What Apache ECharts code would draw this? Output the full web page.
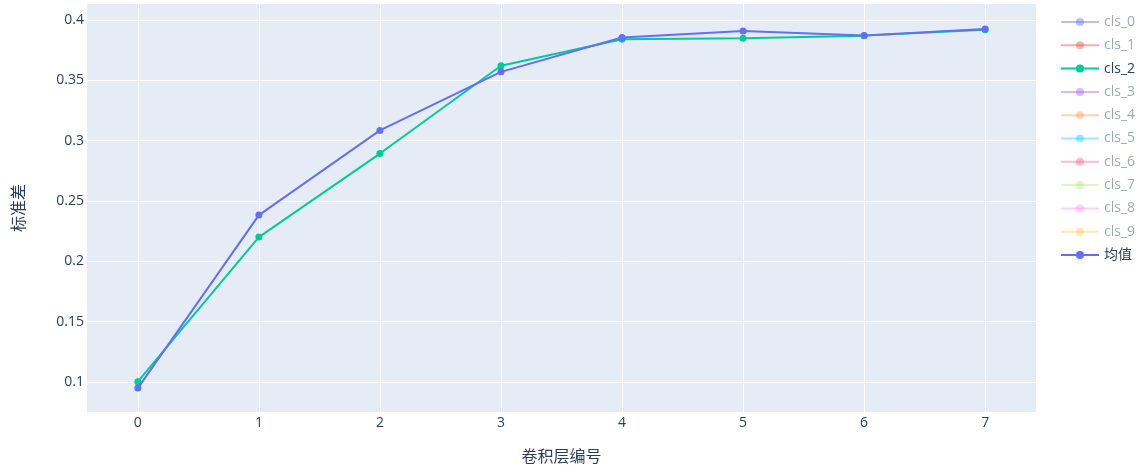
<!DOCTYPE html>
<html><head><meta charset="utf-8">
<script src="https://cdn.jsdelivr.net/npm/echarts@6/dist/echarts.min.js"></script>
<style>html,body{margin:0;padding:0;background:#fff}#c{width:1141px;height:465px}</style>
</head><body><div id="c"></div>
<script>
const layers = [0, 1, 2, 3, 4, 5, 6, 7];
const seriesNames = ['cls_0','cls_1','cls_2','cls_3','cls_4','cls_5','cls_6','cls_7','cls_8','cls_9','均值'];
const cls2 = [0.1003, 0.2201, 0.2893, 0.3620, 0.3840, 0.3849, 0.3870, 0.3918];
const meanVals = [0.0950, 0.2383, 0.3085, 0.3570, 0.3854, 0.3909, 0.3872, 0.3925];
const hiddenNames = ['cls_0','cls_1','cls_3','cls_4','cls_5','cls_6','cls_7','cls_8','cls_9'];
const xTicks = [0, 1, 2, 3, 4, 5, 6, 7];
const yTicks = [0.1, 0.15, 0.2, 0.25, 0.3, 0.35, 0.4];
const colors = ['#636efa','#EF553B','#00cc96','#ab63fa','#FFA15A','#19d3f3','#FF6692','#B6E880','#FF97FF','#FECB52','#636efa'];

const font = "'Open Sans', 'Noto Sans CJK SC', sans-serif";
const valuesByName = { 'cls_2': cls2, '均值': meanVals };

const series = seriesNames.map((n, i) => ({
  name: n,
  type: 'line',
  data: valuesByName[n] ? layers.map((x, k) => [x, valuesByName[n][k]]) : [],
  symbol: 'circle',
  symbolSize: 7,
  showSymbol: true,
  lineStyle: { width: 2, color: colors[i] },
  itemStyle: { color: colors[i] },
  emphasis: { disabled: true },
  animation: false,
  z: 2 + i
}));

const legendData = seriesNames.map((n, i) => {
  const hidden = hiddenNames.indexOf(n) >= 0;
  return hidden ? {
    name: n,
    itemStyle: { opacity: 0.45 },
    lineStyle: { opacity: 0.45 },
    textStyle: { color: 'rgba(42,63,95,0.45)' }
  } : { name: n };
});

const chart = echarts.init(document.getElementById('c'), null, { renderer: 'canvas' });
chart.setOption({
  backgroundColor: '#fff',
  animation: false,
  textStyle: { fontFamily: font },
  grid: { left: 87, right: 105, top: 4, bottom: 53, show: true, backgroundColor: '#E5ECF6', borderWidth: 0, containLabel: false, outerBoundsMode: 'none' },
  legend: {
    orient: 'vertical',
    left: 1060,
    top: 15,
    padding: 0,
    itemWidth: 38,
    itemHeight: 10,
    itemGap: 9.3,
    data: legendData,
    textStyle: { fontSize: 14, color: '#2a3f5f', fontFamily: font }
  },
  xAxis: {
    type: 'value',
    min: -0.42,
    max: 7.42,
    name: '卷积层编号',
    nameLocation: 'middle',
    nameGap: 37,
    nameTextStyle: { fontSize: 16, color: '#2a3f5f', fontFamily: font },
    axisLine: { show: false },
    axisTick: { show: false, customValues: xTicks },
    axisLabel: { customValues: xTicks, color: '#2a3f5f', fontSize: 14, margin: 4 },
    splitLine: { show: true, lineStyle: { color: '#ffffff', width: 1 } }
  },
  yAxis: {
    type: 'value',
    min: 0.0752,
    max: 0.4132,
    name: '标准差',
    nameLocation: 'middle',
    nameGap: 60,
    nameRotate: 90,
    nameTextStyle: { fontSize: 16, color: '#2a3f5f', fontFamily: font },
    axisLine: { show: false },
    axisTick: { show: false, customValues: yTicks },
    axisLabel: { customValues: yTicks, color: '#2a3f5f', fontSize: 14, margin: 3 },
    splitLine: { show: true, lineStyle: { color: '#ffffff', width: 1 } }
  },
  series: series
});
</script></body></html>
